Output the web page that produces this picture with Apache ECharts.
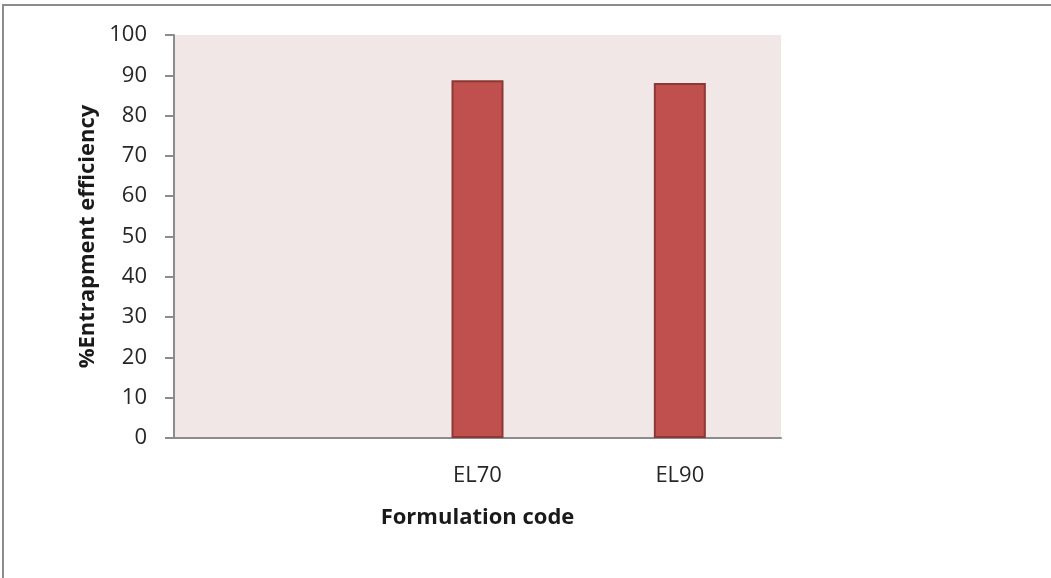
<!DOCTYPE html>
<html>
<head>
<meta charset="utf-8">
<script src="https://cdn.jsdelivr.net/npm/echarts@6/dist/echarts.min.js"></script>
<style>
  html, body { margin: 0; padding: 0; background: #fff; }
  #wrap { position: relative; width: 1051px; height: 578px; }
  #frame { position: absolute; left: 2px; top: 4px; right: 0; bottom: 0;
           border-top: 2px solid #8c8c8c; border-left: 2px solid #8c8c8c; }
  #chart { position: absolute; left: 0; top: 0; width: 1051px; height: 578px; }
</style>
</head>
<body>
<div id="wrap">
  <div id="frame"></div>
  <div id="chart"></div>
</div>
<script>
// Formulation codes (first slot is left blank on the axis)
const categories = ['', 'EL70', 'EL90'];
// Entrapment efficiency (%) per formulation
const efficiency = [null, 88.8, 88.1];
const yTicks = { min: 0, max: 100, step: 10 };

const font = '"Open Sans", "Noto Sans", sans-serif';
const axisGray = '#8c8c8c';

const chart = echarts.init(document.getElementById('chart'), null, { renderer: 'canvas' });
chart.setOption({
  animation: false,
  backgroundColor: 'transparent',
  grid: { left: 174, right: 270, top: 35, bottom: 140, containLabel: false,
          show: true, backgroundColor: '#f2e7e7', borderWidth: 0 },
  xAxis: {
    type: 'category',
    data: categories,
    name: 'Formulation code',
    nameLocation: 'middle',
    nameGap: 69,
    nameTextStyle: { fontFamily: font, fontSize: 22, fontWeight: 'bold', color: '#1a1a1a' },
    axisLine: { show: true, lineStyle: { color: axisGray, width: 2 } },
    axisTick: { show: false },
    axisLabel: { fontFamily: font, fontSize: 22, color: '#262626', margin: 27 },
    splitLine: { show: false }
  },
  yAxis: {
    type: 'value',
    min: yTicks.min,
    max: yTicks.max,
    interval: yTicks.step,
    name: '%Entrapment efficiency',
    nameLocation: 'middle',
    nameGap: 74,
    nameRotate: 90,
    nameTextStyle: { fontFamily: font, fontSize: 22, fontWeight: 'bold', color: '#1a1a1a' },
    axisLine: { show: true, lineStyle: { color: axisGray, width: 2 } },
    axisTick: { show: true, inside: false, length: 9, lineStyle: { color: axisGray, width: 2 } },
    axisLabel: { fontFamily: font, fontSize: 22, color: '#262626', margin: 27 },
    splitLine: { show: false }
  },
  series: [{
    type: 'bar',
    data: efficiency,
    barWidth: 52,
    itemStyle: { color: '#c0504d', borderColor: '#8c3836', borderWidth: 2 }
  }]
});
</script>
</body>
</html>
